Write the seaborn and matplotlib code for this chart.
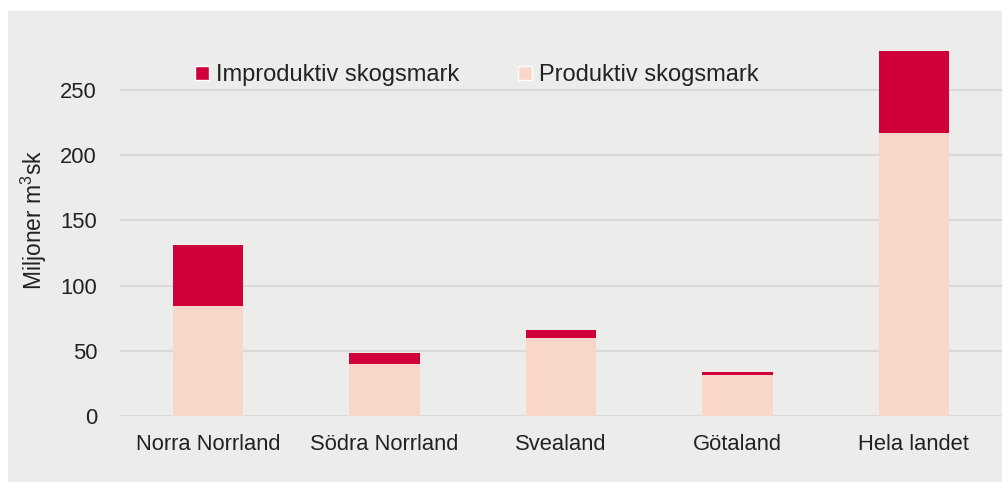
import pandas as pd
import matplotlib.pyplot as plt
import seaborn as sns
from matplotlib.patches import Rectangle, Patch

#%% data (miljoner m3sk)
regions = ["Norra Norrland", "Södra Norrland", "Svealand", "Götaland", "Hela landet"]
produktiv = [84.5, 40.3, 60.0, 31.6, 216.7]
improduktiv = [46.7, 7.9, 5.8, 2.6, 62.8]

df = pd.DataFrame({"region": regions, "produktiv": produktiv, "improduktiv": improduktiv})
df["total"] = df["produktiv"] + df["improduktiv"]

red = "#D0003A"
pink = "#F9D6CA"
bg = "#ECEDEB"
grid = "#D9DAD8"
txt = "#222222"
fs = 15.8

#%% plot
sns.set_style("white")
plt.rcParams["font.family"] = ["Liberation Sans", "DejaVu Sans"]
plt.rcParams["mathtext.fontset"] = "custom"
plt.rcParams["mathtext.rm"] = "Liberation Sans"

fig = plt.figure(figsize=(10.03, 4.82), dpi=100, facecolor="white")
# grey panel behind the chart
fig.patches.append(Rectangle((8 / 1003, 0), 1 - 8 / 1003, 1 - 11 / 482,
                             transform=fig.transFigure, facecolor=bg, edgecolor="none", zorder=-10))

ax = fig.add_axes([120 / 1003, (482 - 416.3) / 482, 882 / 1003, 392 / 482])
ax.set_facecolor("none")
ax.set_zorder(5)

# stacked bars: total in red first, productive part drawn over it
sns.barplot(data=df, x="region", y="total", color=red, width=0.4, saturation=1,
            linewidth=0, ax=ax, zorder=3)
sns.barplot(data=df, x="region", y="produktiv", color=pink, width=0.4, saturation=1,
            linewidth=0, ax=ax, zorder=4)

ax.set_xlim(-0.5, 4.5)
ax.set_ylim(0, 300)
ax.set_yticks([0, 50, 100, 150, 200, 250])
ax.yaxis.grid(True, color=grid, linewidth=1.5, zorder=0)
ax.set_axisbelow(True)
for s in ax.spines.values():
    s.set_visible(False)
ax.tick_params(axis="both", length=0, labelsize=fs, colors=txt)
ax.tick_params(axis="y", pad=16.5)
ax.tick_params(axis="x", pad=13)
ax.set_xlabel("")
ax.set_ylabel("Miljoner m$^\\mathrm{3}$sk", fontsize=16.5, color=txt, labelpad=8)

handles = [Patch(facecolor=red, label="Improduktiv skogsmark"),
           Patch(facecolor=pink, label="Produktiv skogsmark")]
leg = ax.legend(handles=handles, ncol=2, frameon=False, fontsize=17,
                loc="center left", bbox_to_anchor=(0.061, 0.87),
                handlelength=0.59, handleheight=0.59, handletextpad=0.3, columnspacing=2.5)
for t in leg.get_texts():
    t.set_color(txt)

plt.savefig("out.png", dpi=100, facecolor="white")
